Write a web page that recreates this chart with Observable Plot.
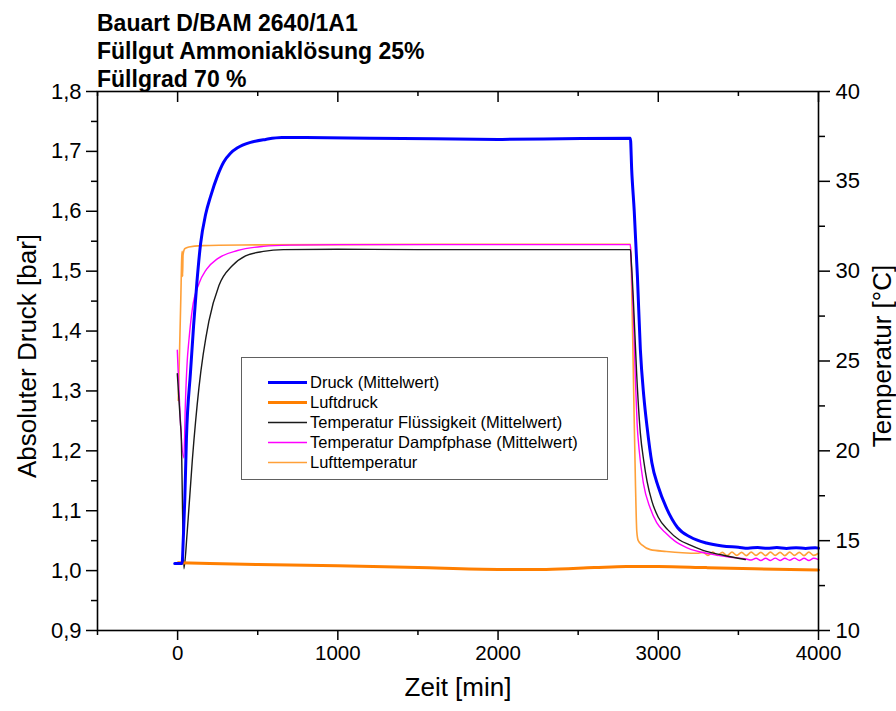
<!DOCTYPE html>
<html>
<head>
<meta charset="utf-8">
<script src="https://cdn.jsdelivr.net/npm/d3@7"></script>
<script src="https://cdn.jsdelivr.net/npm/@observablehq/plot@0.6"></script>
<style>
  body { margin: 0; background: #fff; font-family: "Liberation Sans", Arial, sans-serif; }
  #wrap { position: relative; width: 896px; height: 711px; overflow: hidden; }
  #title { position: absolute; left: 97px; top: 9px; font-weight: bold; font-size: 23px; line-height: 28px; color: #000; white-space: nowrap; }
  #legend { position: absolute; left: 241px; top: 357px; width: 367px; height: 123px; box-sizing: border-box; border: 1px solid #606060; background: #fff; }
  .row { position: absolute; left: 26px; height: 20px; line-height: 20px; font-size: 16.5px; color: #000; white-space: nowrap; }
  .row svg { position: absolute; left: 0; top: 0; }
  .row span { position: absolute; left: 42px; top: 0; }
  #chart svg { display: block; }
</style>
</head>
<body>
<div id="wrap">
  <div id="chart"></div>
  <div id="title"></div>
  <div id="legend"></div>
</div>
<script>
// ---------- titles ----------
const titleLines = ["Bauart D/BAM 2640/1A1", "Füllgut Ammoniaklösung 25%", "Füllgrad 70 %"];
const xTitle = "Zeit [min]";
const yLeftTitle = "Absoluter Druck [bar]";
const yRightTitle = "Temperatur [°C]";

// ---------- series (time in min) ----------
// Druck (Mittelwert) [bar]
const druckT = [-18, 28, 35, 45, 55, 80, 100, 120, 143, 175, 206, 250, 287, 330, 374, 455, 550, 650, 800, 1200, 1600, 2000, 2400, 2826, 2834, 2850, 2870, 2888, 2910, 2930, 2960, 3000, 3050, 3120, 3200, 3300, 3400, 3500, 3560, 3620, 3680, 3740, 3800, 3860, 3920, 3980, 4000];
const druckV = [1.012, 1.012, 1.05, 1.12, 1.22, 1.33, 1.41, 1.48, 1.545, 1.595, 1.625, 1.66, 1.682, 1.697, 1.706, 1.715, 1.720, 1.723, 1.723, 1.722, 1.721, 1.720, 1.721, 1.722, 1.67, 1.60, 1.49, 1.37, 1.29, 1.24, 1.18, 1.14, 1.105, 1.072, 1.056, 1.046, 1.041, 1.039, 1.0375, 1.0385, 1.0372, 1.0384, 1.0370, 1.0383, 1.0371, 1.0382, 1.0375];

// Luftdruck [bar]
const luftdruckT = [5, 200, 500, 1000, 1500, 2000, 2300, 2600, 2800, 3000, 3300, 3600, 4000];
const luftdruckV = [1.013, 1.012, 1.010, 1.008, 1.005, 1.002, 1.002, 1.005, 1.007, 1.007, 1.005, 1.003, 1.001];

// Temperatur Flüssigkeit (Mittelwert) [°C]
const fluessigT = [-2, 18, 22, 39, 60, 92, 133, 195, 258, 341, 424, 536, 661, 1000, 1500, 2000, 2500, 2826, 2832, 2845, 2865, 2888, 2910, 2930, 2960, 3000, 3060, 3130, 3200, 3300, 3400, 3543];
const fluessigV = [24.3, 21.5, 21.0, 13.44, 15.5, 19.5, 23.5, 27.2, 29.2, 30.3, 30.85, 31.1, 31.2, 31.22, 31.2, 31.2, 31.2, 31.2, 30.5, 28.3, 24.3, 21.0, 19.4, 18.3, 17.2, 16.3, 15.6, 15.05, 14.75, 14.4, 14.2, 13.95];

// Temperatur Dampfphase (Mittelwert) [°C]
const dampfT = [-2, 39, 48, 60, 70, 92, 133, 180, 250, 374, 536, 700, 1000, 2000, 2826, 2832, 2845, 2857, 2868, 2880, 2907, 2950, 2990, 3050, 3100, 3180, 3330, 3450, 3550, 3580, 3610, 3640, 3670, 3700, 3730, 3760, 3790, 3820, 3850, 3880, 3910, 3940, 3970, 4000];
const dampfV = [25.6, 19.6, 22.5, 25.0, 26.1, 27.9, 29.3, 30.1, 30.7, 31.15, 31.38, 31.45, 31.48, 31.48, 31.48, 30.3, 27.5, 24.0, 21.5, 20.1, 18.2, 16.8, 16.0, 15.4, 15.0, 14.6, 14.25, 14.08, 13.98, 13.92, 14.02, 13.90, 14.02, 13.90, 14.03, 13.90, 14.02, 13.91, 14.03, 13.90, 14.02, 13.90, 14.02, 13.95];

// Lufttemperatur [°C]
const lufttempT = [4, 12, 20, 26, 29, 31, 34, 45, 70, 150, 400, 1000, 2000, 2826, 2832, 2845, 2858, 2866, 2875, 2900, 2950, 3050, 3150, 3250, 3280, 3310, 3340, 3370, 3400, 3430, 3460, 3490, 3520, 3550, 3580, 3610, 3640, 3670, 3700, 3730, 3760, 3790, 3820, 3850, 3880, 3910, 3940, 3970, 4000];
const lufttempV = [22.8, 25.5, 28.5, 30.8, 31.1, 29.7, 30.9, 31.25, 31.35, 31.42, 31.46, 31.48, 31.5, 31.5, 30.0, 24.0, 18.0, 15.5, 15.0, 14.75, 14.5, 14.4, 14.33, 14.3, 14.35, 14.18, 14.36, 14.18, 14.35, 14.17, 14.36, 14.18, 14.35, 14.17, 14.36, 14.18, 14.35, 14.17, 14.36, 14.18, 14.35, 14.17, 14.36, 14.18, 14.35, 14.17, 14.36, 14.18, 14.3];

// ---------- legend ----------
const seriesNames = ["Druck (Mittelwert)", "Luftdruck", "Temperatur Flüssigkeit (Mittelwert)", "Temperatur Dampfphase (Mittelwert)", "Lufttemperatur"];
const seriesColors = ["#0000ff", "#ff7f00", "#1a1a1a", "#ff00ff", "#ffa038"];
const seriesWidths = [3, 3, 1.4, 1.4, 1.6];

// ---------- ticks ----------
const xMajor = [0, 1000, 2000, 3000, 4000];
const xMinor = [-500, 500, 1500, 2500, 3500];
const pMajor = [0.9, 1.0, 1.1, 1.2, 1.3, 1.4, 1.5, 1.6, 1.7, 1.8];
const pMinor = [0.95, 1.05, 1.15, 1.25, 1.35, 1.45, 1.55, 1.65, 1.75];
const tMajor = [10, 15, 20, 25, 30, 35, 40];
const tMinor = [12.5, 17.5, 22.5, 27.5, 32.5, 37.5];

// right axis (temperature 10..40) shares the frame with pressure 0.9..1.8
const toP = T => 0.9 + (T - 10) * 0.03;
const toT = p => 10 + (p - 0.9) / 0.03;

const zipSeries = (ts, vs) => ts.map((t, i) => ({t, v: vs[i]}));
const druck = zipSeries(druckT, druckV);
const luftdruck = zipSeries(luftdruckT, luftdruckV);
const fluessig = zipSeries(fluessigT, fluessigV);
const dampf = zipSeries(dampfT, dampfV);
const lufttemp = zipSeries(lufttempT, lufttempV);

const W = 896, H = 711, mL = 97, mR = 78, mT = 91, mB = 81;
const frameH = H - mT - mB;
const fmtP = d => d.toFixed(1).replace(".", ",");

const chart = Plot.plot({
  width: W, height: H,
  marginLeft: mL, marginRight: mR, marginTop: mT, marginBottom: mB,
  style: {fontFamily: "'Liberation Sans', Arial, sans-serif", fontSize: "20px", color: "#000", background: "#fff"},
  x: {domain: [-500, 4000], label: null},
  y: {domain: [0.9, 1.8], label: null},
  marks: [
    // bottom axis
    Plot.axisX({ticks: xMajor, tickSize: 10, tickPadding: 5, tickFormat: d => String(d), fontSize: 20.5, strokeWidth: 1.5, label: null}),
    Plot.axisX({ticks: xMinor, tickSize: 5, tickFormat: () => "", strokeWidth: 1.5, label: null}),
    // top inward ticks
    Plot.tickX(xMajor, {x: d => d, insetBottom: frameH - 11, stroke: "#000", strokeWidth: 1.5}),
    Plot.tickX(xMinor, {x: d => d, insetBottom: frameH - 5, stroke: "#000", strokeWidth: 1.5}),
    // left axis
    Plot.axisY({ticks: pMajor, tickSize: 11, tickPadding: 5, tickFormat: fmtP, fontSize: 22, strokeWidth: 1.5, label: null}),
    Plot.axisY({ticks: pMinor, tickSize: 6, tickFormat: () => "", strokeWidth: 1.5, label: null}),
    // right axis (temperature)
    Plot.axisY({anchor: "right", ticks: tMajor.map(toP), tickSize: 11, tickPadding: 6, tickFormat: p => String(Math.round(toT(p))), fontSize: 22, strokeWidth: 1.5, label: null}),
    Plot.axisY({anchor: "right", ticks: tMinor.map(toP), tickSize: 6, tickFormat: () => "", strokeWidth: 1.5, label: null}),
    // axis titles
    Plot.text([xTitle], {text: d => d, frameAnchor: "bottom", textAnchor: "middle", dy: 65, fontSize: 26}),
    Plot.text([yLeftTitle], {text: d => d, frameAnchor: "left", textAnchor: "middle", rotate: -90, dx: -70, dy: -5, fontSize: 26}),
    Plot.text([yRightTitle], {text: d => d, frameAnchor: "right", textAnchor: "middle", rotate: -90, dx: 64, dy: -5, fontSize: 26}),
    // data lines
    Plot.line(lufttemp, {x: "t", y: d => toP(d.v), stroke: seriesColors[4], strokeWidth: seriesWidths[4], curve: "monotone-x"}),
    Plot.line(dampf, {x: "t", y: d => toP(d.v), stroke: seriesColors[3], strokeWidth: seriesWidths[3], curve: "monotone-x"}),
    Plot.line(fluessig, {x: "t", y: d => toP(d.v), stroke: seriesColors[2], strokeWidth: seriesWidths[2], curve: "monotone-x"}),
    Plot.line(luftdruck, {x: "t", y: "v", stroke: seriesColors[1], strokeWidth: seriesWidths[1], curve: "monotone-x"}),
    Plot.line(druck, {x: "t", y: "v", stroke: seriesColors[0], strokeWidth: seriesWidths[0], curve: "monotone-x"}),
    Plot.frame({stroke: "#000", strokeWidth: 1.6})
  ]
});
document.getElementById("chart").appendChild(chart);

// title
const titleEl = document.getElementById("title");
titleLines.forEach(s => { const d = document.createElement("div"); d.textContent = s; titleEl.appendChild(d); });

// legend
const legendEl = document.getElementById("legend");
seriesNames.forEach((name, i) => {
  const row = document.createElement("div");
  row.className = "row";
  row.style.top = (14 + 20 * i) + "px";
  row.innerHTML = `<svg width="40" height="20"><line x1="0" x2="39" y1="10.5" y2="10.5" stroke="${seriesColors[i]}" stroke-width="${seriesWidths[i]}"/></svg><span></span>`;
  row.querySelector("span").textContent = name;
  legendEl.appendChild(row);
});
</script>
</body>
</html>
